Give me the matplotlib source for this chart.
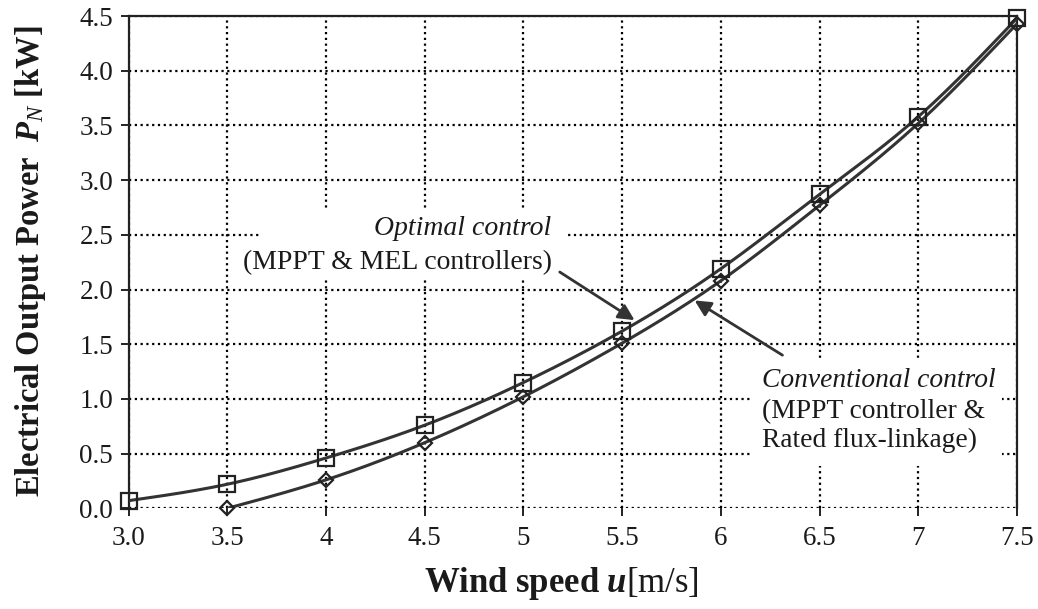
import numpy as np
import matplotlib
matplotlib.use("Agg")
import matplotlib.pyplot as plt
from matplotlib.patches import Rectangle

# Wind speed [m/s] and electrical output power [kW]
wind_opt = [3.0, 3.5, 4.0, 4.5, 5.0, 5.5, 6.0, 6.5, 7.0, 7.5]
power_opt = [0.07, 0.22, 0.46, 0.76, 1.15, 1.62, 2.19, 2.87, 3.58, 4.48]

wind_conv = [3.5, 4.0, 4.5, 5.0, 5.5, 6.0, 6.5, 7.0, 7.5]
power_conv = [0.0, 0.26, 0.60, 1.02, 1.51, 2.08, 2.77, 3.52, 4.43]

x_ticks = [3.0, 3.5, 4.0, 4.5, 5.0, 5.5, 6.0, 6.5, 7.0, 7.5]
x_tick_labels = ["3.0", "3.5", "4", "4.5", "5", "5.5", "6", "6.5", "7", "7.5"]
y_ticks = [0.0, 0.5, 1.0, 1.5, 2.0, 2.5, 3.0, 3.5, 4.0, 4.5]
y_tick_labels = ["0.0", "0.5", "1.0", "1.5", "2.0", "2.5", "3.0", "3.5", "4.0", "4.5"]


def natural_spline(x, y, n=300):
    """Smooth curve through the given points (natural cubic spline)."""
    x = np.asarray(x, float)
    y = np.asarray(y, float)
    m = len(x)
    h = np.diff(x)
    A = np.zeros((m, m))
    b = np.zeros(m)
    A[0, 0] = A[-1, -1] = 1.0
    for i in range(1, m - 1):
        A[i, i - 1] = h[i - 1]
        A[i, i] = 2 * (h[i - 1] + h[i])
        A[i, i + 1] = h[i]
        b[i] = 3 * ((y[i + 1] - y[i]) / h[i] - (y[i] - y[i - 1]) / h[i - 1])
    c = np.linalg.solve(A, b)
    xs = np.linspace(x[0], x[-1], n)
    idx = np.clip(np.searchsorted(x, xs) - 1, 0, m - 2)
    dx = xs - x[idx]
    hi = h[idx]
    bi = (y[idx + 1] - y[idx]) / hi - hi * (2 * c[idx] + c[idx + 1]) / 3
    di = (c[idx + 1] - c[idx]) / (3 * hi)
    ys = y[idx] + bi * dx + c[idx] * dx ** 2 + di * dx ** 3
    return xs, ys


plt.rcParams["font.family"] = ["Liberation Serif", "DejaVu Serif"]
plt.rcParams["mathtext.fontset"] = "custom"
plt.rcParams["mathtext.rm"] = "Liberation Serif"
plt.rcParams["mathtext.it"] = "Liberation Serif:italic"
plt.rcParams["mathtext.bf"] = "Liberation Serif:bold"
plt.rcParams["mathtext.bfit"] = "Liberation Serif:italic:bold"

fig = plt.figure(figsize=(10.38, 6.09), dpi=100)
ax = fig.add_axes([0.1238, 0.1653, 0.8560, 0.8084])

line_color = "#333333"
text_color = "#1a1a1a"

xs, ys = natural_spline(wind_opt, power_opt)
ax.plot(xs, ys, color=line_color, lw=2.2, zorder=3, solid_capstyle="butt")
ax.plot(wind_opt, power_opt, linestyle="none", marker="s", markersize=11.5,
        markerfacecolor="none", markeredgecolor="#222222", markeredgewidth=1.6,
        zorder=4, clip_on=False)

xs, ys = natural_spline(wind_conv, power_conv)
ax.plot(xs, ys, color=line_color, lw=2.2, zorder=3, solid_capstyle="butt")
ax.plot(wind_conv, power_conv, linestyle="none", marker="D", markersize=7.5,
        markerfacecolor="none", markeredgecolor="#222222", markeredgewidth=1.6,
        zorder=4, clip_on=False)

ax.set_xlim(3.0, 7.5)
ax.set_ylim(0.0, 4.5)
ax.set_xticks(x_ticks)
ax.set_xticklabels(x_tick_labels)
ax.set_yticks(y_ticks)
ax.set_yticklabels(y_tick_labels)

ax.set_axisbelow(True)
ax.grid(True, color="black", linestyle=(0, (1, 1.6)), linewidth=1.6)

for side in ("left", "top", "right"):
    ax.spines[side].set_linewidth(1.6)
    ax.spines[side].set_color("#222222")
ax.spines["bottom"].set_visible(False)

ax.tick_params(axis="both", direction="out", length=6, width=1.4,
               labelsize=19.5, colors="#222222", labelcolor=text_color)
ax.tick_params(axis="x", pad=7)
ax.tick_params(axis="y", pad=5)

ax.set_xlabel(r"$\mathbf{Wind\ speed}\ \mathbfit{u}\mathrm{[m/s]}$",
              fontsize=25, color=text_color)
ax.set_ylabel(r"$\mathbf{Electrical\ Output\ Power}\ \ \mathbfit{P}_{\mathit{N}}\ \mathbf{[kW]}$",
              fontsize=23.5, color=text_color)
ax.xaxis.set_label_coords(0.487, -0.115)
ax.yaxis.set_label_coords(-0.091, 0.502)

# white panels behind the annotation texts
ax.add_patch(Rectangle((3.66, 2.11), 1.56, 0.63, facecolor="white",
                       edgecolor="none", zorder=1))
ax.add_patch(Rectangle((6.155, 0.39), 1.27, 0.97, facecolor="white",
                       edgecolor="none", zorder=1))

ax.text(5.143, 2.56, "Optimal control", style="italic", fontsize=20,
        ha="right", va="center", color=text_color, zorder=2)
ax.text(5.143, 2.25, "(MPPT & MEL controllers)", fontsize=20,
        ha="right", va="center", color=text_color, zorder=2)

ax.text(6.206, 1.17, "Conventional control", style="italic", fontsize=19.8,
        ha="left", va="center", color=text_color, zorder=2)
ax.text(6.206, 0.88, "(MPPT controller &", fontsize=19.8,
        ha="left", va="center", color=text_color, zorder=2)
ax.text(6.206, 0.62, "Rated flux-linkage)", fontsize=19.8,
        ha="left", va="center", color=text_color, zorder=2)

arrow = dict(arrowstyle="-|>", mutation_scale=24, lw=2.0, color=line_color,
             shrinkA=0, shrinkB=0)
ax.annotate("", xy=(5.563, 1.72), xytext=(5.184, 2.16), arrowprops=arrow,
            zorder=5)
ax.annotate("", xy=(5.867, 1.90), xytext=(6.312, 1.40), arrowprops=arrow,
            zorder=5)

fig.savefig("out.png", dpi=100, facecolor="white")
